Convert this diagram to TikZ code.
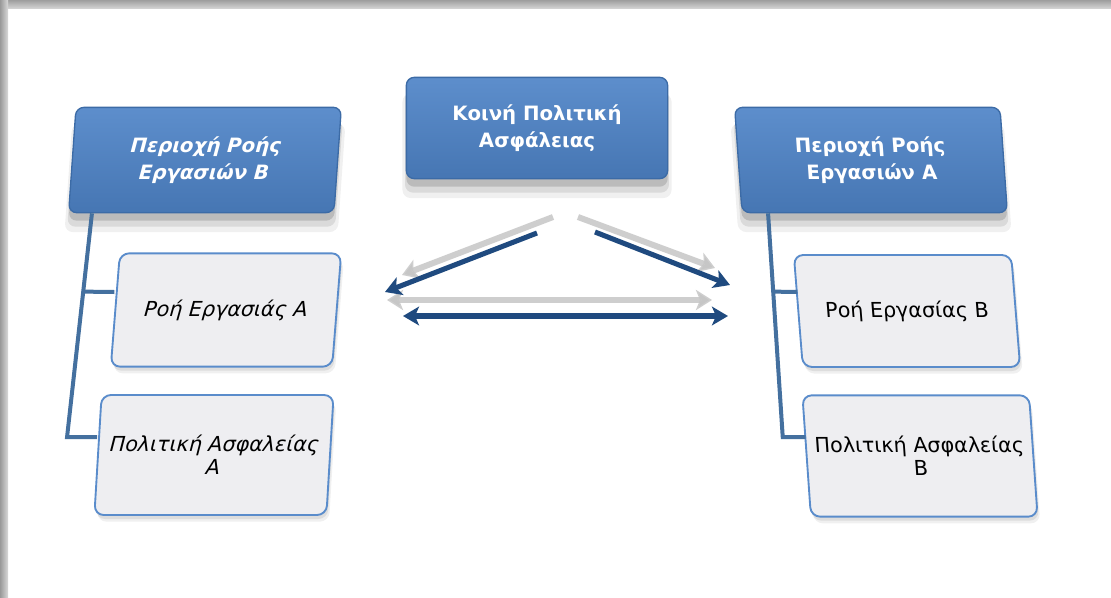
\documentclass[tikz,border=0pt]{standalone}
\usepackage{fontspec}
\setmainfont{DejaVu Sans}
\usetikzlibrary{arrows.meta,shadows,calc}

\definecolor{bluetop}{HTML}{5D8ECC}
\definecolor{bluebot}{HTML}{4676B3}
\definecolor{blueedge}{HTML}{3C6BA6}
\definecolor{paleface}{HTML}{EEEEF1}
\definecolor{paleedge}{HTML}{5A8CCB}
\definecolor{treeblue}{HTML}{44709F}
\definecolor{navy}{HTML}{1F4A7F}
\definecolor{ghost}{HTML}{C6C6C6}

\tikzset{
  lift/.style={
    general shadow={shadow yshift=-13pt, shadow scale=1.03, fill=black, opacity=0.06},
    general shadow={shadow yshift=-10pt, shadow scale=1.01, fill=black, opacity=0.09},
    general shadow={shadow yshift=-6pt, fill=black, opacity=0.14}
  },
  softlift/.style={
    general shadow={shadow yshift=-5pt, shadow xshift=2pt, fill=black, opacity=0.06},
    general shadow={shadow yshift=-3pt, shadow xshift=1pt, fill=black, opacity=0.08}
  },
  headbox/.style={
    lift, rounded corners=6pt, top color=bluetop, bottom color=bluebot,
    draw=blueedge, line width=1pt, text=white, align=center,
    font=\bfseries\fontsize{14.8}{20}\selectfont, transform shape
  },
  itembox/.style={
    softlift, rounded corners=7pt, fill=paleface, draw=paleedge,
    line width=1.4pt, text=black, align=center,
    font=\fontsize{15.5}{17.5}\selectfont, transform shape
  },
  tree/.style={draw=treeblue, line width=3pt},
  link/.style={draw=navy, line width=3.8pt, -{Stealth[length=12pt,width=14pt,inset=3pt]}},
  linkboth/.style={draw=navy, line width=3.8pt,
    {Stealth[length=12pt,width=14pt,inset=3pt]}-{Stealth[length=12pt,width=14pt,inset=3pt]}},
  echo/.style={draw=ghost, draw opacity=0.85, line width=4.5pt,
    -{Stealth[length=12pt,width=15pt,inset=3pt]}},
  echoboth/.style={draw=ghost, draw opacity=0.85, line width=4.5pt,
    {Stealth[length=12pt,width=15pt,inset=3pt]}-{Stealth[length=12pt,width=15pt,inset=3pt]}}
}

\begin{document}
\begin{tikzpicture}[x=0.75pt, y=-0.75pt]
  \useasboundingbox (0,0) rectangle (1111,597);
  \fill[white] (0,0) rectangle (1111,597);

  % frame edges
  \shade[top color=black!38, bottom color=black!18] (0,0) rectangle (1111,8);
  \shade[left color=black!40, right color=black!15] (0,0) rectangle (8,597);

  % header boxes
  \begin{scope}[shift={(205,160)}]
    \node[headbox, xslant=0.07, minimum width=199pt, minimum height=79pt] (LB) at (0,0)
      {\itshape Περιοχή Ροής\\\itshape Εργασιών Β};
  \end{scope}
  \begin{scope}[shift={(537,128)}]
    \node[headbox, minimum width=196pt, minimum height=76pt] (CB) at (0,0)
      {Κοινή Πολιτική\\Ασφάλειας};
  \end{scope}
  \begin{scope}[shift={(871,160)}]
    \node[headbox, xslant=-0.07, minimum width=199pt, minimum height=79pt] (RB) at (0,0)
      {Περιοχή Ροής\\Εργασιών Α};
  \end{scope}

  % item boxes, left column
  \begin{scope}[shift={(226,310)}]
    \node[itembox, xslant=0.08, minimum width=166pt, minimum height=85pt] (RA) at (0,0)
      {\itshape Ροή Εργασιάς Α};
  \end{scope}
  \begin{scope}[shift={(214,455)}]
    \node[itembox, xslant=0.06, minimum width=174pt, minimum height=90pt] (PA) at (0,0)
      {\itshape Πολιτική Ασφαλείας\\\itshape Α};
  \end{scope}

  % item boxes, right column
  \begin{scope}[shift={(907,311)}]
    \node[itembox, xslant=-0.08, minimum width=163pt, minimum height=84pt] (RBw) at (0,0)
      {Ροή Εργασίας Β};
  \end{scope}
  \begin{scope}[shift={(920,456)}]
    \node[itembox, xslant=-0.07, minimum width=170pt, minimum height=91pt] (PB) at (0,0)
      {Πολιτική Ασφαλείας\\Β};
  \end{scope}

  % tree lines, left
  \coordinate (ltop) at ($(LB.south west)!0.09!(LB.south east)$);
  \coordinate (lpa) at ($(PA.west)+(0,-18)$);
  \coordinate (lbend) at ($(lpa)+(-30,0)$);
  \coordinate (lra) at ($(RA.west)+(0,-18)$);
  \draw[tree] (ltop) -- (lbend) -- (lpa);
  \draw[tree] ($(ltop)!0.35!(lbend)$) -- (lra);

  % tree lines, right
  \coordinate (rtop) at ($(RB.south west)!0.1!(RB.south east)$);
  \coordinate (rpb) at ($(PB.west)+(0,-19)$);
  \coordinate (rbend) at ($(rpb)+(-23,0)$);
  \coordinate (rrb) at ($(RBw.west)+(0,-19)$);
  \draw[tree] (rtop) -- (rbend) -- (rpb);
  \draw[tree] ($(rtop)!0.35!(rbend)$) -- (rrb);

  % exchange arrows between the two areas
  \coordinate (gl1) at (553,217); \coordinate (gl2) at (402,275);
  \coordinate (bl1) at (537,233); \coordinate (bl2) at (385,292);
  \coordinate (gr1) at (578,217); \coordinate (gr2) at (715,268);
  \coordinate (br1) at (595,232); \coordinate (br2) at (730,285);
  \coordinate (gh1) at (387,300); \coordinate (gh2) at (712,300);
  \coordinate (bh1) at (403,316); \coordinate (bh2) at (728,316);

  \draw[echo] (gl1) -- (gl2);
  \draw[echo] (gr1) -- (gr2);
  \draw[echoboth] (gh1) -- (gh2);
  \draw[link] (bl1) -- (bl2);
  \draw[link] (br1) -- (br2);
  \draw[linkboth] (bh1) -- (bh2);
\end{tikzpicture}
\end{document}
